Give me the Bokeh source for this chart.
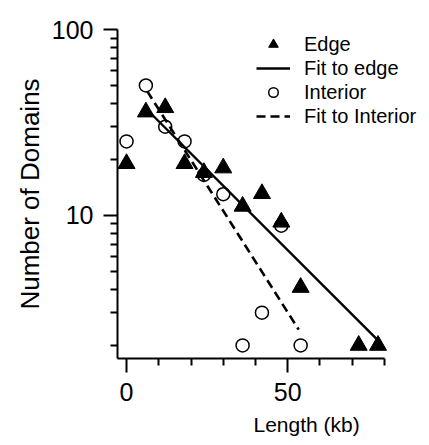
from bokeh.plotting import figure
from bokeh.models import Range1d, FixedTicker, Legend, LegendItem, Title, PrintfTickFormatter
from bokeh.embed import file_html
from bokeh.resources import INLINE

# ---- data ----
edge_x = [0, 6, 12, 18, 24, 30, 36, 42, 48, 54, 72, 78]
edge_y = [19, 36, 38, 19, 17, 18, 11.2, 13.1, 9.2, 4.1, 2, 2]
interior_x = [0, 6, 12, 18, 24, 30, 36, 42, 48, 54]
interior_y = [25, 50, 30, 25, 16.5, 13, 2, 3, 8.8, 2]
edge_fit_x = [6, 78]
edge_fit_y = [37.6, 2.13]
interior_fit_x = [6.4, 53.4]
interior_fit_y = [46.6, 2.43]
x_major = [0, 50]
x_minor = [10, 20, 30, 40, 60, 70, 80]
y_major = [10, 100]
y_minor = [2, 3, 4, 5, 6, 7, 8, 9, 20, 30, 40, 50, 60, 70, 80, 90]

FONT = "Liberation Sans"

p = figure(width=429, height=445, y_axis_type="log",
           x_range=Range1d(-2.8, 93.96), y_range=Range1d(1.70, 100),
           output_backend="svg", toolbar_location=None,
           min_border_left=117, min_border_right=0,
           min_border_top=29, min_border_bottom=87)
p.outline_line_color = None
p.grid.visible = False
p.background_fill_color = "white"
p.border_fill_color = "white"

r_int = p.scatter(interior_x, interior_y, marker="circle", size=13,
                  fill_color="white", line_color="black", line_width=1.5)
r_edge = p.scatter(edge_x, edge_y, marker="triangle", size=17,
                   fill_color="black", line_color="black")
r_efit = p.line(edge_fit_x, edge_fit_y, line_color="black", line_width=2.4)
r_ifit = p.line(interior_fit_x, interior_fit_y, line_color="black",
                line_width=2.6, line_dash="9 5")

for ax in (p.xaxis[0], p.yaxis[0]):
    ax.axis_line_width = 2
    ax.major_tick_line_width = 2
    ax.minor_tick_line_width = 2
    ax.major_tick_in = 0
    ax.minor_tick_in = 0
    ax.major_tick_out = 14
    ax.minor_tick_out = 7
    ax.major_label_text_font = FONT
    ax.major_label_text_font_size = "25px"
    ax.major_label_text_color = "black"
    ax.axis_line_color = "black"
    ax.major_tick_line_color = "black"
    ax.minor_tick_line_color = "black"

p.xaxis.ticker = FixedTicker(ticks=x_major, minor_ticks=x_minor)
p.xaxis.bounds = (-2.8, 80.01)
p.yaxis.ticker = FixedTicker(ticks=y_major, minor_ticks=y_minor)
p.yaxis.formatter = PrintfTickFormatter(format="%d")
p.xaxis.major_label_standoff = 10
p.yaxis.major_label_standoff = 10

p.yaxis.axis_label = "Number of Domains"
p.yaxis.axis_label_text_font = FONT
p.yaxis.axis_label_text_font_size = "26px"
p.yaxis.axis_label_text_font_style = "normal"
p.yaxis.axis_label_text_color = "black"
p.yaxis.axis_label_standoff = 4

xtitle = Title(text="Length (kb)", align="left", offset=136, standoff=14,
               text_font=FONT, text_font_size="21px",
               text_font_style="normal", text_color="black")
p.add_layout(xtitle, "below")

legend = Legend(items=[
    LegendItem(label="Edge", renderers=[r_edge]),
    LegendItem(label="Fit to edge", renderers=[r_efit]),
    LegendItem(label="Interior", renderers=[r_int]),
    LegendItem(label="Fit to Interior", renderers=[r_ifit]),
], location=(139, 230))
legend.background_fill_alpha = 0
legend.border_line_color = None
legend.padding = 0
legend.margin = 0
legend.spacing = 0
legend.glyph_width = 34
legend.glyph_height = 24
legend.label_height = 23
legend.label_standoff = 14
legend.label_text_font = FONT
legend.label_text_font_size = "20px"
legend.label_text_color = "black"
p.add_layout(legend)

open("out.html", "w").write(file_html(p, INLINE))
